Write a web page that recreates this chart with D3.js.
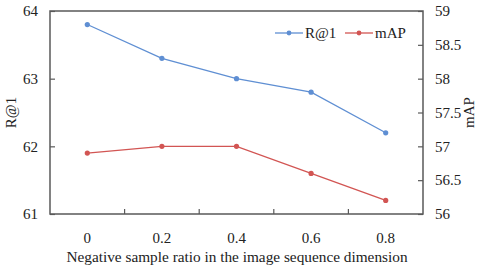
<!DOCTYPE html>
<html>
<head>
<meta charset="utf-8">
<script src="https://cdn.jsdelivr.net/npm/d3@7"></script>
<style>
  body { margin: 0; background: #fff; }
  text { font-family: "Liberation Serif", "Times New Roman", serif; fill: #222; }
</style>
</head>
<body>
<svg id="chart" width="480" height="272"></svg>
<script>
"use strict";

const ratios = ['0', '0.2', '0.4', '0.6', '0.8']
const r1_values = [63.8, 63.3, 63.0, 62.8, 62.2]
const map_values = [56.9, 57.0, 57.0, 56.6, 56.2]
const left_ticks = [61, 62, 63, 64]
const right_ticks = [56, 56.5, 57, 57.5, 58, 58.5, 59]

const margin = { left: 50, right: 423, top: 11, bottom: 214 }
const blue = '#5f8fd3'
const red = '#d25553'
const axis_color = '#595959'

const svg = d3.select('#chart')

const x = d3.scaleBand()
   .domain(ratios)
   .range([margin.left, margin.right])

const y_left = d3.scaleLinear()
   .domain([61, 64])
   .range([margin.bottom, margin.top])

const y_right = d3.scaleLinear()
   .domain([56, 59])
   .range([margin.bottom, margin.top])

// box
svg.append('rect')
   .attr('x', margin.left)
   .attr('y', margin.top)
   .attr('width', margin.right - margin.left)
   .attr('height', margin.bottom - margin.top)
   .attr('fill', 'none')
   .attr('stroke', axis_color)
   .attr('stroke-width', 1.5)

// x axis: ticks between bands, pointing inward
let x_axis = svg.append('g')
   .attr('transform', `translate(0, ${margin.bottom})`)
x_axis.selectAll('line')
   .data(ratios.slice(1))
   .enter().append('line')
      .attr('x1', d => x(d))
      .attr('x2', d => x(d))
      .attr('y1', 0)
      .attr('y2', -5)
      .attr('stroke', axis_color)
      .attr('stroke-width', 1.2)
x_axis.selectAll('text')
   .data(ratios)
   .enter().append('text')
      .attr('x', d => x(d) + x.bandwidth() / 2)
      .attr('y', 29)
      .attr('text-anchor', 'middle')
      .attr('font-size', 15)
      .text(d => d)

// left axis
let left_axis = svg.append('g')
   .attr('transform', `translate(${margin.left}, 0)`)
   .call(d3.axisRight(y_left).tickValues(left_ticks).tickSize(5).tickFormat(d3.format('d')))
left_axis.select('.domain').remove()
left_axis.selectAll('line').attr('stroke', axis_color).attr('stroke-width', 1.2)
left_axis.selectAll('text')
   .attr('x', -12)
   .attr('text-anchor', 'end')
   .attr('font-size', 15)
   .attr('font-family', '"Liberation Serif", serif')

// right axis
let right_axis = svg.append('g')
   .attr('transform', `translate(${margin.right}, 0)`)
   .call(d3.axisLeft(y_right).tickValues(right_ticks).tickSize(5).tickFormat(d => d))
right_axis.select('.domain').remove()
right_axis.selectAll('line').attr('stroke', axis_color).attr('stroke-width', 1.2)
right_axis.selectAll('text')
   .attr('x', 12)
   .attr('text-anchor', 'start')
   .attr('font-size', 15)
   .attr('font-family', '"Liberation Serif", serif')

// axis titles
svg.append('text')
   .attr('transform', `translate(16, ${(margin.top + margin.bottom) / 2}) rotate(-90)`)
   .attr('text-anchor', 'middle')
   .attr('font-size', 15)
   .text('R@1')
svg.append('text')
   .attr('transform', `translate(474, ${(margin.top + margin.bottom) / 2}) rotate(-90)`)
   .attr('text-anchor', 'middle')
   .attr('font-size', 15)
   .text('mAP')
svg.append('text')
   .attr('x', 237)
   .attr('y', 262)
   .attr('text-anchor', 'middle')
   .attr('font-size', 15.3)
   .text('Negative sample ratio in the image sequence dimension')

// series
const series = [
   { name: 'R@1', values: r1_values, scale: y_left, color: blue },
   { name: 'mAP', values: map_values, scale: y_right, color: red }
]

series.forEach(s => {
   let line = d3.line()
      .x((d, i) => x(ratios[i]) + x.bandwidth() / 2)
      .y(d => s.scale(d))
   svg.append('path')
      .datum(s.values)
      .attr('fill', 'none')
      .attr('stroke', s.color)
      .attr('stroke-width', 1.3)
      .attr('d', line)
   svg.append('g')
      .selectAll('circle')
      .data(s.values)
      .enter().append('circle')
         .attr('cx', (d, i) => x(ratios[i]) + x.bandwidth() / 2)
         .attr('cy', d => s.scale(d))
         .attr('r', 2.6)
         .attr('fill', s.color)
})

// legend
let legend = svg.append('g')
   .attr('transform', 'translate(275, 33)')
legend.selectAll('g')
   .data(series)
   .enter().append('g')
      .attr('transform', (d, i) => `translate(${i * 70}, 0)`)
      .each(function (d) {
         let g = d3.select(this)
         g.append('line')
            .attr('x1', 0).attr('x2', 28)
            .attr('stroke', d.color)
            .attr('stroke-width', 1.3)
         g.append('circle')
            .attr('cx', 14)
            .attr('r', 2.4)
            .attr('fill', d.color)
         g.append('text')
            .attr('x', 30)
            .attr('y', 5)
            .attr('font-size', 15)
            .text(d.name)
      })
</script>
</body>
</html>
